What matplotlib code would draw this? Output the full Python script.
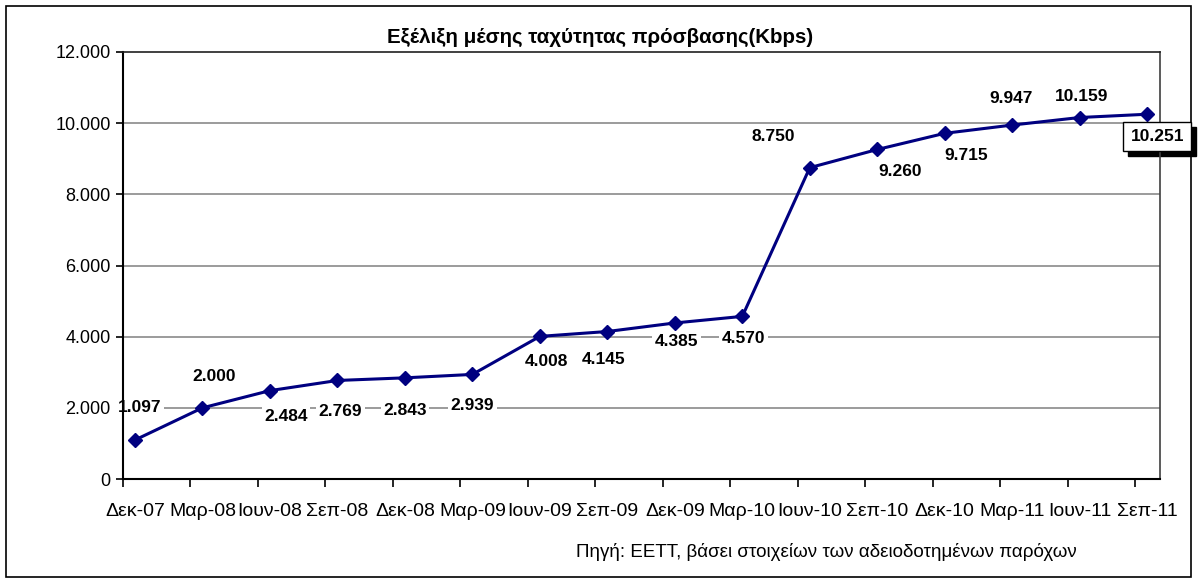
import matplotlib
matplotlib.use("Agg")
import matplotlib.pyplot as plt
from matplotlib.patches import Rectangle
import numpy as np

plt.rcParams['font.family'] = ['Liberation Sans', 'DejaVu Sans']

categories = ["Δεκ-07", "Μαρ-08", "Ιουν-08", "Σεπ-08", "Δεκ-08", "Μαρ-09", "Ιουν-09",
              "Σεπ-09", "Δεκ-09", "Μαρ-10", "Ιουν-10", "Σεπ-10", "Δεκ-10", "Μαρ-11",
              "Ιουν-11", "Σεπ-11"]
values = [1097, 2000, 2484, 2769, 2843, 2939, 4008, 4145, 4385, 4570,
          8750, 9260, 9715, 9947, 10159, 10251]
value_labels = ["1.097", "2.000", "2.484", "2.769", "2.843", "2.939", "4.008", "4.145",
                "4.385", "4.570", "8.750", "9.260", "9.715", "9.947", "10.159", "10.251"]
yticks = [0, 2000, 4000, 6000, 8000, 10000, 12000]
ytick_labels = ["0", "2.000", "4.000", "6.000", "8.000", "10.000", "12.000"]
title = "Εξέλιξη μέσης ταχύτητας πρόσβασης(Kbps)"
source = "Πηγή: ΕΕΤΤ, βάσει στοιχείων των αδειοδοτημένων παρόχων"

# label offsets in pixels (dx, dy), layout only
label_offsets = [(5, 32), (12, 31), (16, -26), (3, -31), (0, -33), (0, -31),
                 (7, -25), (-4, -28), (2, -19), (1, -22), (-37, 31), (23, -22),
                 (21, -22), (-1, 27), (2, 21), (10, -22)]

W, H = 1198, 583
fig = plt.figure(figsize=(W / 100, H / 100), dpi=100)
fig.patch.set_facecolor('white')

# outer border
fig.patches.append(Rectangle((6 / W, 1 - 577 / H), (1191 - 6) / W, (577 - 6) / H,
                             transform=fig.transFigure, fill=False,
                             edgecolor='black', linewidth=1.2))

left, right, top, bottom = 123, 1160, 52, 479
ax = fig.add_axes([left / W, 1 - bottom / H, (right - left) / W, (bottom - top) / H])

x = np.arange(len(values))
ax.plot(x, values, color='#000080', linewidth=2.2, marker='D', markersize=7.5,
        markerfacecolor='#000080', markeredgecolor='#000080', zorder=3)

off = 0.178
ax.set_xlim(-off, len(values) - 1 + 0.19)
ax.set_ylim(0, 12000)

ax.set_yticks(yticks)
ax.set_yticklabels(ytick_labels, fontsize=13)
ax.set_xticks(x)
ax.set_xticklabels(categories, fontsize=14)
ax.tick_params(axis='x', which='major', length=0, pad=17)
ax.set_xticks(x - off, minor=True)
ax.tick_params(axis='x', which='minor', length=6, width=1.2, direction='out', color='black')
ax.tick_params(axis='y', length=5, width=1.2, direction='out', pad=4, color='black')

for yv in yticks[1:-1]:
    ax.axhline(yv, color='#808080', linewidth=1.1, zorder=1)

for s in ['left', 'bottom']:
    ax.spines[s].set_color('black')
    ax.spines[s].set_linewidth(1.5)
ax.spines['top'].set_color('#202020')
ax.spines['top'].set_linewidth(1.2)
ax.spines['right'].set_color('#404040')
ax.spines['right'].set_linewidth(1.2)

last_text = None
for i, (v, lab, (dx, dy)) in enumerate(zip(values, value_labels, label_offsets)):
    if i == len(values) - 1:
        last_text = ax.annotate(lab, (i, v), xytext=(dx, dy), textcoords='offset pixels',
                                ha='center', va='center', fontsize=12.5, fontweight='bold',
                                color='black',
                                bbox=dict(boxstyle='square,pad=0.4', facecolor='white',
                                          edgecolor='black', linewidth=1),
                                zorder=5, annotation_clip=False)
    else:
        ax.annotate(lab, (i, v), xytext=(dx, dy), textcoords='offset pixels',
                    ha='center', va='center', fontsize=12.5, fontweight='bold', color='black',
                    bbox=dict(boxstyle='square,pad=0.15', facecolor='white', edgecolor='none'),
                    zorder=2, annotation_clip=False)

fig.text(600 / W, 1 - 37 / H, title, ha='center', va='center', fontsize=14.8, fontweight='bold')
fig.text(826 / W, 1 - 552 / H, source, ha='center', va='center', fontsize=13.5)

# shadow behind the last label box
fig.canvas.draw()
bb = last_text.get_bbox_patch().get_window_extent()
fig.patches.append(Rectangle(((bb.x0 + 5) / W, (bb.y0 - 5) / H), bb.width / W, bb.height / H,
                             transform=fig.transFigure, facecolor='black', edgecolor='black',
                             zorder=0.5))
ax.set_zorder(2)
ax.patch.set_alpha(0)

fig.savefig('out.png', dpi=100, facecolor='white')
